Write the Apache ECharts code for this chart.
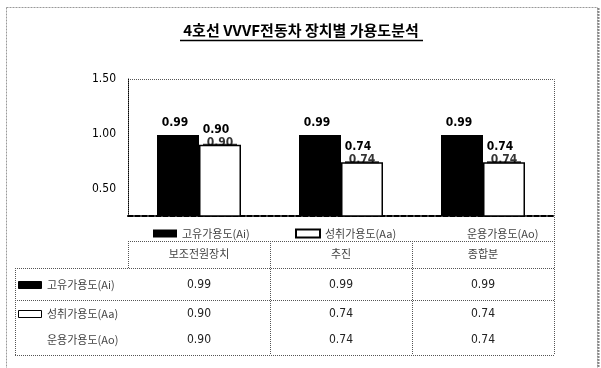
<!DOCTYPE html>
<html>
<head>
<meta charset="utf-8">
<script src="https://cdn.jsdelivr.net/npm/echarts@6/dist/echarts.min.js"></script>
<style>
  html, body { margin: 0; padding: 0; background: #fff; }
  #chart { width: 601px; height: 368px; }
</style>
</head>
<body>
<div id="chart"></div>
<script>
// Availability by device, line 4 VVVF trains
const chartTitle = '4호선 VVVF전동차 장치별 가용도분석';
const categories = ['보조전원장치', '추진', '종합분'];
const seriesNames = ['고유가용도(Ai)', '성취가용도(Aa)', '운용가용도(Ao)'];
const inherentAi = [0.99, 0.99, 0.99];
const achievedAa = [0.90, 0.74, 0.74];
const operationalAo = [0.90, 0.74, 0.74];
const yTickLabels = [0.5, 1.0, 1.5];

const FONT = "'DejaVu Sans Condensed', 'Noto Sans CJK KR', sans-serif";
const KFONT = "'Noto Sans CJK KR', 'DejaVu Sans Condensed', sans-serif";
const fmt = v => Number(v).toFixed(2);

const GRID = { left: 128, right: 47, top: 79, bottom: 152 };

const chart = echarts.init(document.getElementById('chart'), null, { renderer: 'canvas' });

const legendText = { fontSize: 11, color: '#444', fontFamily: KFONT };
const barLabel = { fontSize: 12, fontWeight: 'bold', color: '#000', fontFamily: FONT };

chart.setOption({
  animation: false,
  backgroundColor: '#fff',
  grid: GRID,
  legend: [
    { left: 148, top: 223, itemWidth: 24, itemHeight: 8, itemGap: 4,
      data: [{ name: seriesNames[0], icon: 'rect' }], textStyle: legendText, selectedMode: false },
    { left: 290, top: 223, itemWidth: 24, itemHeight: 8, itemGap: 4,
      data: [{ name: seriesNames[1], icon: 'rect' }], textStyle: legendText, selectedMode: false },
    { left: 433, top: 223, itemWidth: 24, itemHeight: 8, itemGap: 4,
      data: [{ name: seriesNames[2], icon: 'none' }], textStyle: legendText, selectedMode: false }
  ],
  xAxis: {
    type: 'category',
    data: categories,
    axisLine: { lineStyle: { color: '#000', width: 2, type: [5, 2] } },
    axisTick: { show: false },
    axisLabel: { show: false }
  },
  yAxis: {
    type: 'value',
    min: 0.25,
    max: 1.5,
    interval: 0.25,
    splitLine: { show: false },
    axisLine: { show: true, lineStyle: { color: '#000', width: 1, type: [1, 1] } },
    axisTick: { show: false },
    axisLabel: {
      margin: 12,
      fontSize: 12,
      color: '#000',
      fontFamily: FONT,
      formatter: v => yTickLabels.some(t => Math.abs(t - v) < 1e-6) ? fmt(v) : ''
    }
  },
  series: [
    {
      name: seriesNames[0],
      type: 'bar',
      data: inherentAi,
      barWidth: 42,
      barGap: '0%',
      itemStyle: { color: '#000' },
      label: Object.assign({ show: true, position: 'top', distance: 6, formatter: p => fmt(p.value),
               offset: [-3, 0] }, barLabel)
    },
    {
      name: seriesNames[1],
      type: 'bar',
      data: achievedAa,
      barWidth: 42,
      itemStyle: { color: '#fff', borderColor: '#000', borderWidth: 1.5 },
      label: Object.assign({ show: true, position: 'top', distance: 9, formatter: p => fmt(p.value),
               offset: [-4, 0] }, barLabel)
    },
    {
      name: seriesNames[2],
      type: 'scatter',
      data: operationalAo,
      symbol: 'rect',
      symbolSize: [34, 2],
      symbolOffset: [21, 0],
      itemStyle: { color: '#000' },
      label: Object.assign({ show: true, position: 'inside', formatter: p => fmt(p.value),
               offset: [0, -2] }, barLabel)
    }
  ]
});

// Frames, title and the data table underneath the plot
const colX = categories.map((c, i) => chart.convertToPixel({ xAxisIndex: 0 }, i));
const plotL = GRID.left, plotR = 601 - GRID.right, plotT = GRID.top;
const tblL = 15, tblTop = 241, hdrBottom = 268, rowSep = 300, tblBottom = 355;
const dotted = { stroke: '#555', lineWidth: 1, lineDash: [1, 1] };

const g = [];
// outer chart frame
g.push({ type: 'rect', shape: { x: 6.5, y: 7.5, width: 591, height: 370 },
         style: { fill: null, stroke: '#999', lineWidth: 1, lineDash: [2, 1] }, silent: true });
g.push({ type: 'line', shape: { x1: 598.5, y1: 8, x2: 598.5, y2: 368 },
         style: { stroke: '#888', lineWidth: 2, lineDash: [2, 1] }, silent: true });
// title with underline
g.push({ type: 'text', x: 301, y: 30, style: { text: chartTitle, fill: '#000', font: 'bold 15px ' + KFONT,
         textAlign: 'center', textVerticalAlign: 'middle' }, silent: true });
g.push({ type: 'line', shape: { x1: 180, y1: 40.5, x2: 423, y2: 40.5 },
         style: { stroke: '#000', lineWidth: 1.5 }, silent: true });
// plot area frame (top and right), continuing down around the table
g.push({ type: 'polyline', shape: { points: [[plotL, plotT + 0.5], [plotR + 0.5, plotT + 0.5], [plotR + 0.5, tblBottom]] },
         style: Object.assign({ fill: null }, dotted), silent: true });
// table lines
const hline = (x1, x2, y) => ({ type: 'line', shape: { x1, y1: y + 0.5, x2, y2: y + 0.5 }, style: dotted, silent: true });
const vline = (x, y1, y2) => ({ type: 'line', shape: { x1: x + 0.5, y1, x2: x + 0.5, y2 }, style: dotted, silent: true });
g.push(hline(plotL, plotR, tblTop));
g.push(hline(tblL, plotR, hdrBottom));
g.push(hline(tblL, plotR, rowSep));
g.push(hline(tblL, plotR, tblBottom));
g.push(vline(tblL, hdrBottom, tblBottom));
g.push(vline(plotL, tblTop, hdrBottom));
g.push(vline((colX[0] + colX[1]) / 2, tblTop, tblBottom));
g.push(vline((colX[1] + colX[2]) / 2, tblTop, tblBottom));

const cellFont = '11px ' + KFONT;
const numFont = '12px ' + FONT;
categories.forEach((c, i) => {
  g.push({ type: 'text', x: colX[i], y: 254, style: { text: c, fill: '#444', font: cellFont,
           textAlign: 'center', textVerticalAlign: 'middle' }, silent: true });
});
const rows = [
  { name: seriesNames[0], values: inherentAi, y: 285, icon: { fill: '#000', stroke: '#000' } },
  { name: seriesNames[1], values: achievedAa, y: 314, icon: { fill: '#fff', stroke: '#000' } },
  { name: seriesNames[2], values: operationalAo, y: 340, icon: null }
];
rows.forEach(r => {
  if (r.icon) {
    g.push({ type: 'rect', shape: { x: 18.5, y: r.y - 3.5, width: 23, height: 7 },
             style: { fill: r.icon.fill, stroke: r.icon.stroke, lineWidth: 1 }, silent: true });
  }
  g.push({ type: 'text', x: 47, y: r.y, style: { text: r.name, fill: '#444', font: cellFont,
           textAlign: 'left', textVerticalAlign: 'middle' }, silent: true });
  r.values.forEach((v, i) => {
    g.push({ type: 'text', x: colX[i], y: r.y, style: { text: fmt(v), fill: '#222', font: numFont,
             textAlign: 'center', textVerticalAlign: 'middle' }, silent: true });
  });
});

chart.setOption({ graphic: g });
</script>
</body>
</html>
